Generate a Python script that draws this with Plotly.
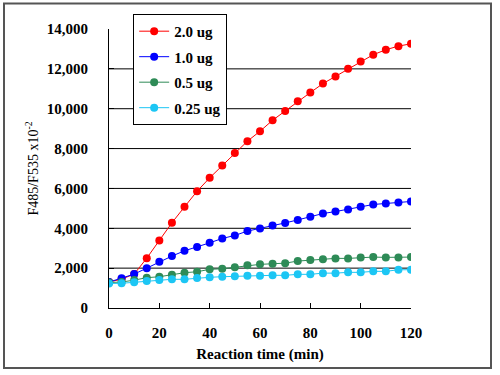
import plotly.graph_objects as go

time_min = [0, 5, 10, 15, 20, 25, 30, 35, 40, 45, 50, 55, 60,
            65, 70, 75, 80, 85, 90, 95, 100, 105, 110, 115, 120]

ug_2_0 = [1300, 1450, 1700, 2500, 3390, 4275, 5075, 5860, 6530, 7150, 7780, 8370, 8870,
          9420, 9885, 10370, 10810, 11260, 11620, 12010, 12375, 12710, 12960, 13140, 13260]
ug_1_0 = [1300, 1490, 1700, 2000, 2320, 2605, 2870, 3055, 3270, 3490, 3640, 3860, 3990,
          4140, 4270, 4420, 4575, 4740, 4840, 4945, 5075, 5195, 5245, 5295, 5345]
ug_0_5 = [1280, 1300, 1400, 1520, 1570, 1670, 1770, 1820, 1940, 1970, 2040, 2140, 2190,
          2220, 2250, 2355, 2405, 2440, 2490, 2490, 2540, 2555, 2540, 2540, 2555]
ug_0_25 = [1230, 1240, 1290, 1350, 1400, 1440, 1440, 1500, 1540, 1570, 1590, 1620, 1620,
           1640, 1640, 1690, 1690, 1750, 1750, 1790, 1790, 1840, 1840, 1920, 1920]

series_names = ["2.0 ug", "1.0 ug", "0.5 ug", "0.25 ug"]
series_values = [ug_2_0, ug_1_0, ug_0_5, ug_0_25]
series_colors = ["#FF0000", "#0000FF", "#2E8B57", "#1CC6F4"]

y_ticks = [0, 2000, 4000, 6000, 8000, 10000, 12000, 14000]
x_ticks = [0, 20, 40, 60, 80, 100, 120]

FONT = "Times New Roman, Liberation Serif, serif"

fig = go.Figure()
for i, (name, vals, col) in enumerate(zip(series_names, series_values, series_colors)):
    fig.add_trace(go.Scatter(
        x=time_min, y=vals, name=name, mode="lines+markers",
        legendgroup=f"g{i}",
        line=dict(color=col, width=1),
        marker=dict(color=col, size=8),
    ))

fig.update_layout(
    width=500, height=375,
    margin=dict(l=109, r=89, t=29, b=67, autoexpand=False),
    paper_bgcolor="white", plot_bgcolor="white",
    font=dict(family=FONT, size=14, color="black"),
    showlegend=True,
    legend=dict(
        x=0.08, y=1.054, xanchor="left", yanchor="top",
        bgcolor="white", bordercolor="black", borderwidth=1,
        font=dict(family=FONT, size=15, color="black", weight="bold"),
        itemwidth=30, tracegroupgap=3,
    ),
    xaxis=dict(
        range=[0, 120], tickvals=x_ticks, ticktext=[str(v) for v in x_ticks],
        showgrid=False, zeroline=False,
        showline=True, linecolor="black", linewidth=1,
        ticks="inside", ticklen=5, tickcolor="black",
        ticklabelstandoff=11,
        tickfont=dict(family=FONT, size=15, weight="bold"),
        title=dict(text="Reaction time (min)", font=dict(family=FONT, size=15, weight="bold"), standoff=8),
        automargin=False,
    ),
    yaxis=dict(
        range=[0, 14000], tickvals=y_ticks, ticktext=[f"{v:,}" for v in y_ticks],
        showgrid=False, zeroline=False,
        showline=True, linecolor="black", linewidth=1,
        ticks="inside", ticklen=5, tickcolor="black",
        ticklabelstandoff=17,
        tickfont=dict(family=FONT, size=15, weight="bold"),
        title=dict(text="F485/F535 x10<sup>-2</sup>", font=dict(family=FONT, size=14), standoff=4),
        automargin=False,
    ),
)

# horizontal gridlines at 2000..12000
for v in y_ticks[1:-1]:
    fig.add_shape(type="line", xref="x", yref="y", x0=0, x1=120, y0=v, y1=v,
                  line=dict(color="black", width=1), layer="below")

# outer frame
fig.add_shape(type="rect", xref="paper", yref="paper",
              x0=(4 - 109) / 302, x1=(491 - 109) / 302,
              y0=(308 - 368) / 279, y1=(308 - 3.5) / 279,
              line=dict(color="#555555", width=2), layer="above")

fig.write_html("out.html", config={"displayModeBar": False},
               post_script="document.body.style.margin='0';")
